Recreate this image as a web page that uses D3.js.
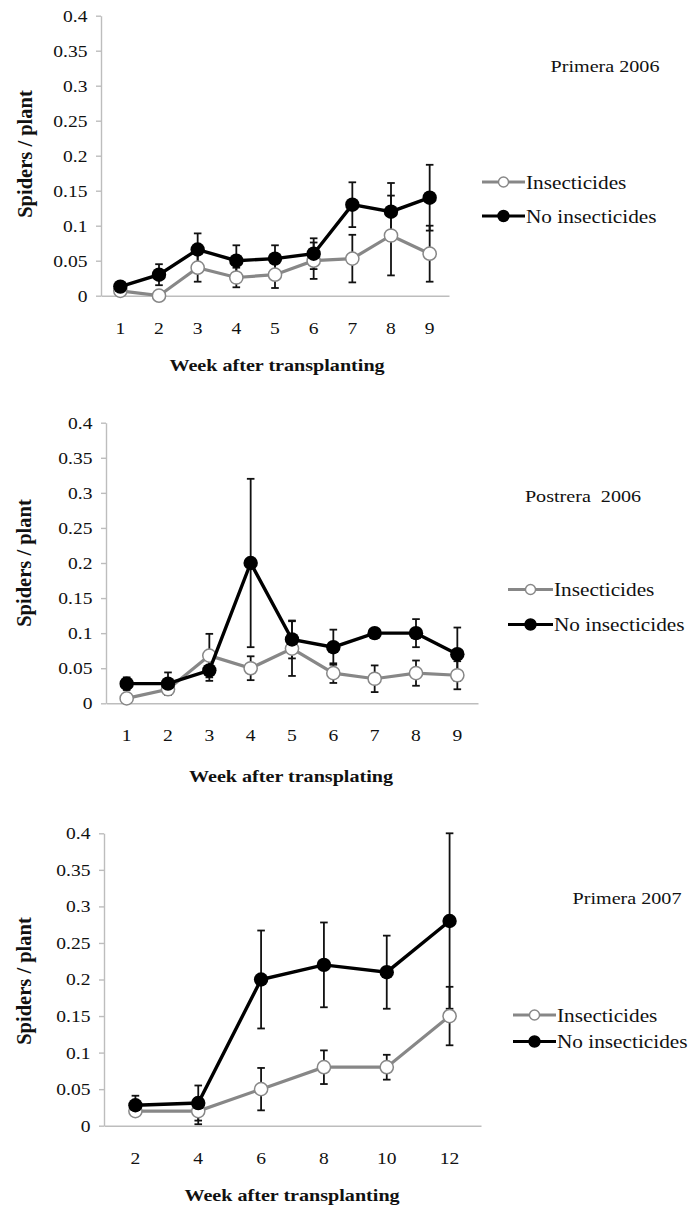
<!DOCTYPE html>
<html>
<head>
<meta charset="utf-8">
<script src="https://cdn.jsdelivr.net/npm/d3@7"></script>
<style>
  html, body { margin: 0; padding: 0; background: #fff; }
  svg { display: block; }
  svg text { font-family: 'Liberation Serif', 'Times New Roman', 'DejaVu Serif', serif; fill: #111; }
</style>
</head>
<body>
<svg id="chart" width="688" height="1210"></svg>
<script>
// ---- Data: mean spiders per plant (± error) by week after transplanting ----
const seriesNames = ["Insecticides", "No insecticides"];
const yTicks = [0, 0.05, 0.1, 0.15, 0.2, 0.25, 0.3, 0.35, 0.4];

// Primera 2006
const weeks1 = [1, 2, 3, 4, 5, 6, 7, 8, 9];
const ins1 = [0.007, 0, 0.04, 0.026, 0.03, 0.05, 0.053, 0.086, 0.06];
const insErr1 = [0.004, 0, 0.02, 0.014, 0.019, 0.026, 0.034, 0.057, 0.04];
const noIns1 = [0.013, 0.03, 0.066, 0.05, 0.053, 0.06, 0.13, 0.12, 0.14];
const noInsErr1 = [0.004, 0.015, 0.023, 0.022, 0.019, 0.022, 0.032, 0.041, 0.047];

// Postrera 2006
const weeks2 = [1, 2, 3, 4, 5, 6, 7, 8, 9];
const ins2 = [0.007, 0.02, 0.068, 0.05, 0.078, 0.043, 0.035, 0.043, 0.04];
const insErr2 = [0.003, 0.005, 0.031, 0.017, 0.039, 0.014, 0.019, 0.018, 0.02];
const noIns2 = [0.028, 0.028, 0.047, 0.2, 0.091, 0.08, 0.1, 0.1, 0.07];
const noInsErr2 = [0.009, 0.016, 0.015, 0.12, 0.027, 0.025, 0.004, 0.02, 0.038];

// Primera 2007
const weeks3 = [2, 4, 6, 8, 10, 12];
const ins3 = [0.02, 0.02, 0.05, 0.08, 0.08, 0.15];
const insErr3 = [0.003, 0.018, 0.029, 0.023, 0.017, 0.04];
const noIns3 = [0.028, 0.031, 0.2, 0.22, 0.21, 0.28];
const noInsErr3 = [0.013, 0.024, 0.067, 0.058, 0.05, 0.12];

// ---- Panel layout ----
const panels = [
  { title: "Primera 2006", xTitle: "Week after transplanting",
    weeks: weeks1, ins: ins1, insErr: insErr1, no: noIns1, noErr: noInsErr1,
    x0: 101, x1: 449, yTop: 15.7, yZero: 295.7,
    titleX: 605, titleY: 72, xTitleX: 277, xTitleY: 371, yTitleX: 25, yTitleY: 154,
    legX0: 482, legX1: 525, legY: [182, 216] },
  { title: "Postrera\u00a0 2006", xTitle: "Week after transplating",
    weeks: weeks2, ins: ins2, insErr: insErr2, no: noIns2, noErr: noInsErr2,
    x0: 106, x1: 478, yTop: 422.7, yZero: 703.3,
    titleX: 583, titleY: 501.5, xTitleX: 291, xTitleY: 781.5, yTitleX: 24, yTitleY: 563,
    legX0: 508, legX1: 553, legY: [589.5, 624.5] },
  { title: "Primera 2007", xTitle: "Week after transplanting",
    weeks: weeks3, ins: ins3, insErr: insErr3, no: noIns3, noErr: noInsErr3,
    x0: 104, x1: 481, yTop: 833.3, yZero: 1125.7,
    titleX: 627, titleY: 903.5, xTitleX: 292, xTitleY: 1201, yTitleX: 24, yTitleY: 981,
    legX0: 513, legX1: 556, legY: [1015, 1041.5] }
];

const FONT = "'Liberation Serif', 'Times New Roman', 'DejaVu Serif', serif";
const SX = 1.15;            // horizontal stretch applied to horizontal text
const AXIS = "#bdbdbd";
const GRAY = "#878787";
const svg = d3.select("#chart");

function stretchedText(g, x, y, str, size, opts = {}) {
  return g.append("text")
    .attr("transform", `translate(${x},${y}) scale(${SX},1)`)
    .attr("text-anchor", opts.anchor || "start")
    .attr("font-family", FONT)
    .style("font-family", FONT)
    .style("font-size", size + "px")
    .style("font-weight", opts.bold ? "bold" : "normal")
    .style("white-space", "pre")
    .text(str);
}

panels.forEach(p => {
  const g = svg.append("g");
  const x = d3.scaleBand().domain(p.weeks).range([p.x0, p.x1]).padding(0);
  const cx = w => x(w) + x.bandwidth() / 2;
  const y = d3.scaleLinear().domain([0, 0.4]).range([p.yZero, p.yTop]);

  // x axis: baseline only, labels under each week
  const gx = g.append("g").attr("transform", `translate(0,${p.yZero})`)
    .call(d3.axisBottom(x).tickSize(0).tickSizeOuter(0))
    .attr("font-family", FONT);
  gx.select(".domain").attr("stroke", AXIS).attr("stroke-width", 1.4);
  gx.selectAll(".tick text")
    .attr("y", null).attr("dy", null)
    .attr("transform", `translate(0,38) scale(${SX},1)`)
    .style("font-family", FONT).style("font-size", "17px").attr("fill", "#111");

  // y axis with outward ticks
  const gy = g.append("g").attr("transform", `translate(${p.x0},0)`)
    .call(d3.axisLeft(y).tickValues(yTicks).tickFormat(d3.format("~g"))
      .tickSize(5).tickSizeOuter(0))
    .attr("font-family", FONT);
  gy.select(".domain").attr("stroke", AXIS).attr("stroke-width", 1.4);
  gy.selectAll(".tick line").attr("stroke", AXIS).attr("stroke-width", 1.4);
  gy.selectAll(".tick text")
    .attr("x", -13.5 / SX)
    .attr("transform", `scale(${SX},1)`)
    .style("font-family", FONT).style("font-size", "17px").attr("fill", "#111");

  // axis titles
  stretchedText(g, p.xTitleX, p.xTitleY, p.xTitle, 17.5, { anchor: "middle", bold: true });
  g.append("text")
    .attr("transform", `translate(${p.yTitleX},${p.yTitleY}) rotate(-90)`)
    .attr("text-anchor", "middle").attr("dy", "0.35em")
    .style("font-family", FONT)
    .style("font-size", "20.5px").style("font-weight", "bold")
    .text("Spiders / plant");

  // panel title
  stretchedText(g, p.titleX, p.titleY, p.title, 17.5, { anchor: "middle" });

  const rows = (vals, errs) => p.weeks.map((w, i) => ({ w, v: vals[i], e: errs[i] }));
  const insRows = rows(p.ins, p.insErr);
  const noRows = rows(p.no, p.noErr);

  // error bars (both treatments drawn in black)
  const eb = g.append("g").attr("stroke", "#111").attr("stroke-width", 1.8).attr("fill", "none");
  [insRows, noRows].forEach(rs => {
    rs.filter(d => d.e > 0).forEach(d => {
      const xc = cx(d.w), yt = y(d.v + d.e), yb = y(d.v - d.e);
      eb.append("line").attr("x1", xc).attr("x2", xc).attr("y1", yt).attr("y2", yb);
      eb.append("line").attr("x1", xc - 3.8).attr("x2", xc + 3.8).attr("y1", yt).attr("y2", yt);
      eb.append("line").attr("x1", xc - 3.8).attr("x2", xc + 3.8).attr("y1", yb).attr("y2", yb);
    });
  });

  const line = d3.line().x(d => cx(d.w)).y(d => y(d.v));

  // insecticide-treated: gray line, open markers
  g.append("path").datum(insRows).attr("d", line)
    .attr("fill", "none").attr("stroke", GRAY).attr("stroke-width", 3.2);
  g.selectAll(".m-ins").data(insRows).join("circle")
    .attr("cx", d => cx(d.w)).attr("cy", d => y(d.v)).attr("r", 6.6)
    .attr("fill", "#fff").attr("stroke", GRAY).attr("stroke-width", 1.5);

  // untreated: black line, filled markers
  g.append("path").datum(noRows).attr("d", line)
    .attr("fill", "none").attr("stroke", "#000").attr("stroke-width", 3.4);
  g.selectAll(".m-no").data(noRows).join("circle")
    .attr("cx", d => cx(d.w)).attr("cy", d => y(d.v)).attr("r", 7.2)
    .attr("fill", "#000");

  // legend
  const styles = [
    { stroke: GRAY, fill: "#fff", r: 5 },
    { stroke: "#000", fill: "#000", r: 5.5 }
  ];
  seriesNames.forEach((name, i) => {
    const ly = p.legY[i], s = styles[i];
    g.append("line").attr("x1", p.legX0).attr("x2", p.legX1).attr("y1", ly).attr("y2", ly)
      .attr("stroke", s.stroke).attr("stroke-width", 3.2);
    g.append("circle").attr("cx", (p.legX0 + p.legX1) / 2).attr("cy", ly).attr("r", s.r)
      .attr("fill", s.fill).attr("stroke", s.stroke).attr("stroke-width", 1.4);
    stretchedText(g, p.legX1 + 1, ly + 6.5, name, 18.5);
  });
});
</script>
</body>
</html>
